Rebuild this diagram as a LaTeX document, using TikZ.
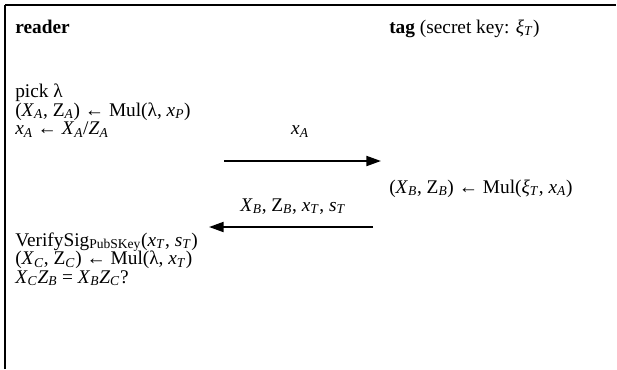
\documentclass[tikz,border=0pt]{standalone}
\usepackage{fontspec}
\setmainfont{Liberation Serif}
\usetikzlibrary{arrows.meta}
\newcommand{\vsub}[2]{\textit{#1}\textsubscript{\textit{#2}}}
\newcommand{\usub}[2]{#1\textsubscript{\textit{#2}}}
\tikzset{
  txt/.style={inner sep=0pt, anchor=base west},
  msg/.style={-{Triangle[length=11pt,width=7.5pt]}, line width=1.5pt},
  frameline/.style={line width=1.5pt}
}
\begin{document}
\begin{tikzpicture}[x=0.75pt,y=-0.75pt,font=\fontsize{14.5}{14}\selectfont]
  \useasboundingbox (0,0) rectangle (617,369);
  % frame, open at the right and at the bottom
  \coordinate (tl) at (5,4.5);
  \coordinate (bl) at (5,369);
  \coordinate (tr) at (616,4.5);
  \draw[frameline] (bl) -- (tl);
  \draw[frameline] (tl) -- (tr);
  % headers
  \node[txt] (reader) at (15,33) {\textbf{reader}};
  \node[txt] (tag) at (389,33) {\textbf{tag} (secret key: \vsub{ξ}{T})};
  % reader, first step
  \node[txt] (pick) at (15,97.5) {pick λ};
  \node[txt] (mulA) at (15,116) {(\vsub{X}{A}, \usub{Z}{A}) ← Mul(λ, \vsub{x}{P})};
  \node[txt] (xA) at (15,134.5) {\vsub{x}{A} ← \vsub{X}{A}/\vsub{Z}{A}};
  % message to tag
  \coordinate (m1s) at (224,161);
  \coordinate (m1e) at (381,161);
  \draw[msg] (m1s) -- (m1e);
  \node[anchor=base] (m1) at (300,134.5) {\vsub{x}{A}};
  % tag
  \node[txt] (mulB) at (389,193) {(\vsub{X}{B}, \usub{Z}{B}) ← Mul(\vsub{ξ}{T}, \vsub{x}{A})};
  % message back
  \coordinate (m2s) at (373,227);
  \coordinate (m2e) at (209,227);
  \draw[msg] (m2s) -- (m2e);
  \node[anchor=base] (m2) at (293,211) {\vsub{X}{B}, \usub{Z}{B}, \vsub{x}{T}, \vsub{s}{T}};
  % reader, check
  \node[txt] (verify) at (15,246) {VerifySig\textsubscript{PubSKey}(\vsub{x}{T}, \vsub{s}{T})};
  \node[txt] (mulC) at (15,264.5) {(\vsub{X}{C}, \usub{Z}{C}) ← Mul(λ, \vsub{x}{T})};
  \node[txt] (check) at (15,283) {\vsub{X}{C}\vsub{Z}{B} = \vsub{X}{B}\vsub{Z}{C}?};
\end{tikzpicture}
\end{document}
